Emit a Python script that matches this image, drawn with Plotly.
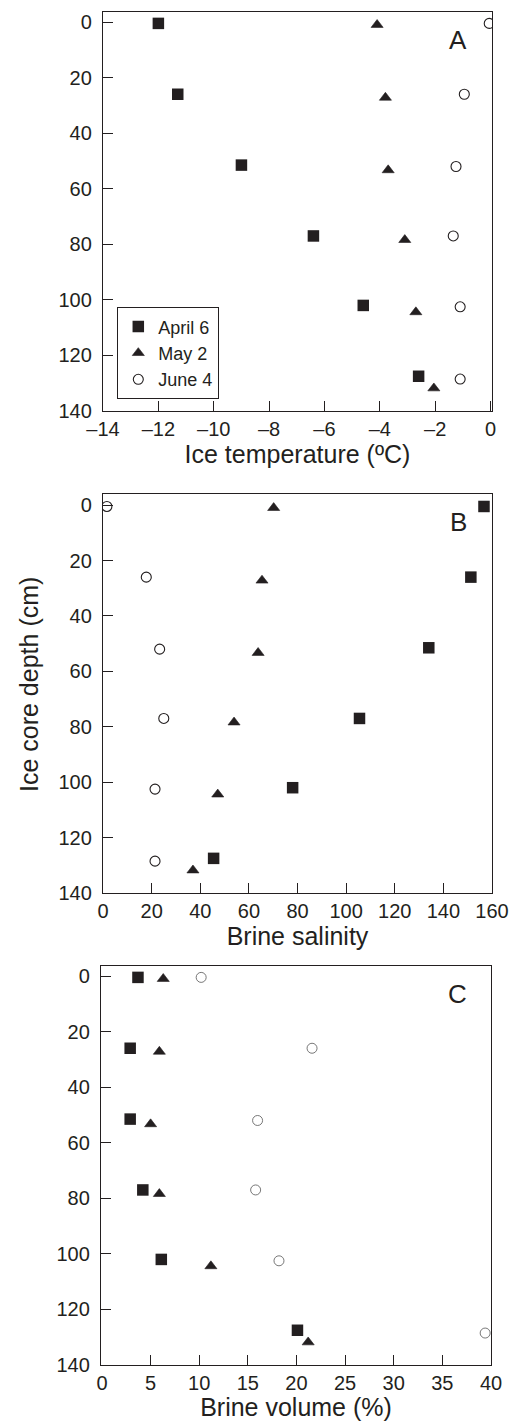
import plotly.graph_objects as go

# ---------------- data ----------------
series_names = ["April 6", "May 2", "June 4"]

depth_apr = [0.5, 26, 51.5, 77, 102, 127.5]
depth_may = [1.0, 27.2, 53.3, 78.4, 104.4, 131.8]
depth_jun = [0.5, 26, 52, 77, 102.5, 128.5]

temp_apr = [-12.0, -11.3, -9.0, -6.4, -4.6, -2.6]
temp_may = [-4.1, -3.8, -3.7, -3.1, -2.7, -2.05]
temp_jun = [-0.05, -0.95, -1.25, -1.35, -1.1, -1.1]

sal_apr = [156.7, 151.3, 134.0, 105.5, 78.0, 45.5]
sal_may = [70.2, 65.4, 63.8, 53.9, 47.2, 37.0]
sal_jun = [1.6, 17.8, 23.3, 25.0, 21.4, 21.4]

vol_apr = [3.7, 2.9, 2.9, 4.2, 6.1, 20.1]
vol_may = [6.3, 5.9, 5.0, 5.9, 11.2, 21.2]
vol_jun = [10.2, 21.6, 16.0, 15.8, 18.2, 39.4]

depth_ticks = [0, 20, 40, 60, 80, 100, 120, 140]
temp_ticks = [-14, -12, -10, -8, -6, -4, -2, 0]
temp_ticktext = ["–14", "–12", "–10", "–8", "–6", "–4", "–2", "0"]
sal_ticks = [0, 20, 40, 60, 80, 100, 120, 140, 160]
vol_ticks = [0, 5, 10, 15, 20, 25, 30, 35, 40]

panel_labels = ["A", "B", "C"]
x_titles = ["Ice temperature (ºC)", "Brine salinity", "Brine volume (%)"]
y_title = "Ice core depth (cm)"

# ---------------- style ----------------
W, H = 513, 1421
INK = "#231f20"
FONT = "Liberation Sans, Arial, Helvetica, sans-serif"

def px_x(p):
    return p / W

def px_y(p):
    return 1 - p / H

# plot-area pixel boxes in screen pixels (left, right, top, bottom)
boxes = [
    (103, 492, 12, 411),
    (103, 492, 494, 893),
    (101, 491, 966, 1365),
]

fig = go.Figure()

panels = [
    (temp_apr, temp_may, temp_jun, "#231f20"),
    (sal_apr, sal_may, sal_jun, "#231f20"),
    (vol_apr, vol_may, vol_jun, "#555555"),
]

for i, (xa, xm, xj, circ_col) in enumerate(panels):
    xref = "x" if i == 0 else f"x{i+1}"
    yref = "y" if i == 0 else f"y{i+1}"
    show = i == 0
    fig.add_trace(go.Scatter(
        x=xa, y=depth_apr, mode="markers", name=series_names[0],
        xaxis=xref, yaxis=yref, showlegend=show, legendgroup="a",
        marker=dict(symbol="square", size=11.5, color=INK, line=dict(width=0)),
    ))
    fig.add_trace(go.Scatter(
        x=xm, y=depth_may, mode="markers", name=series_names[1],
        xaxis=xref, yaxis=yref, showlegend=show, legendgroup="m",
        marker=dict(symbol="triangle-up", size=10.5, color=INK, line=dict(width=0.6, color=INK)),
    ))
    fig.add_trace(go.Scatter(
        x=xj, y=depth_jun, mode="markers", name=series_names[2],
        xaxis=xref, yaxis=yref, showlegend=show, legendgroup="j",
        marker=dict(symbol="circle-open", size=10, color=circ_col,
                    line=dict(width=1.1 if i < 2 else 0.8, color=circ_col)),
    ))

axis_common = dict(
    showgrid=False, zeroline=False, showline=True, mirror=True, automargin=False,
    linecolor=INK, linewidth=1.3, ticks="inside", ticklen=10, tickwidth=1.3,
    tickcolor=INK, tickfont=dict(family=FONT, size=20, color=INK),
)

x_specs = [
    dict(range=[-14, 0.05], tickvals=temp_ticks, ticktext=temp_ticktext),
    dict(range=[0, 160], tickvals=sal_ticks),
    dict(range=[-0.1, 40], tickvals=vol_ticks),
]
y_ranges = [[140, -3.6], [140, -4.0], [140, -3.6]]

layout = dict(
    template="none",
    width=W, height=H, margin=dict(l=0, r=0, t=0, b=0, autoexpand=False),
    paper_bgcolor="white", plot_bgcolor="white",
    font=dict(family=FONT, color=INK),
    showlegend=True,
    legend=dict(
        x=px_x(117), y=px_y(307), xanchor="left", yanchor="top",
        bgcolor="white", bordercolor=INK, borderwidth=1.3,
        font=dict(family=FONT, size=18, color=INK),
        itemwidth=30, tracegroupgap=0,
    ),
)

annotations = []
for i, (l, r, t, b) in enumerate(boxes):
    sfx = "" if i == 0 else str(i + 1)
    xa = dict(axis_common)
    xa.update(x_specs[i])
    xa.update(domain=[px_x(l), px_x(r)], anchor="y" + sfx,
              title=dict(text=x_titles[i], font=dict(family=FONT, size=25, color=INK),
                         standoff=4))
    ya = dict(axis_common)
    ya.update(range=y_ranges[i], tickvals=depth_ticks,
              domain=[px_y(b), px_y(t)], anchor="x" + sfx,
              ticklabelstandoff=6)
    layout["xaxis" + sfx] = xa
    layout["yaxis" + sfx] = ya
    annotations.append(dict(
        text=panel_labels[i], xref="paper", yref="paper",
        x=px_x(r - 34), y=px_y(t + 28), xanchor="center", yanchor="middle",
        showarrow=False, font=dict(family=FONT, size=26, color=INK),
    ))

annotations.append(dict(
    text=y_title, xref="paper", yref="paper", x=px_x(29), y=px_y(685),
    xanchor="center", yanchor="middle", textangle=-90, showarrow=False,
    font=dict(family=FONT, size=25, color=INK),
))
layout["annotations"] = annotations

fig.update_layout(**layout)
fig.write_html(
    "out.html",
    config={"displayModeBar": False},
    post_script="document.body.style.margin='0';document.body.style.overflow='hidden';",
)
